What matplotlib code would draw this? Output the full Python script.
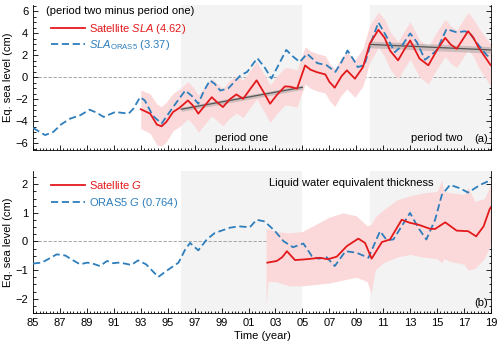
import numpy as np
import matplotlib
matplotlib.use("Agg")
import matplotlib.pyplot as plt
from matplotlib.ticker import MultipleLocator, FixedLocator, FuncFormatter

plt.rcParams["font.family"] = ["Liberation Sans", "DejaVu Sans"]
plt.rcParams["mathtext.fontset"] = "custom"
plt.rcParams["mathtext.rm"] = "Liberation Sans"
plt.rcParams["mathtext.it"] = "Liberation Sans:italic"
plt.rcParams["font.size"] = 8

# ---- panel (a): sea level anomaly ----
sat_sla_year = [1993.0, 1993.7, 1994.2, 1994.55, 1994.9, 1995.4, 1995.9, 1996.5, 1996.9,
                1997.27, 1997.8, 1998.27, 1998.7, 1999.1, 1999.6, 2000.1, 2000.6, 2001.1,
                2001.6, 2002.1, 2002.6, 2003.1, 2003.7, 2004.1, 2004.6, 2005.2, 2005.6,
                2006.06, 2006.7, 2007.0, 2007.4, 2007.9, 2008.3, 2008.9, 2009.5, 2010.0,
                2010.64, 2011.1, 2011.5, 2012.1, 2012.6, 2013.0, 2013.7, 2014.35, 2015.0,
                2015.6, 2016.0, 2016.45, 2017.3, 2017.7, 2018.06, 2018.9, 2019.0]
sat_sla = [-2.9, -3.3, -4.3, -4.45, -4.05, -3.15, -2.75, -2.1, -2.6,
           -3.3, -2.5, -1.8, -2.3, -2.7, -2.0, -1.55, -1.95, -1.1,
           -0.27, -1.3, -2.4, -1.6, -0.82, -0.85, -1.03, 1.09, 0.7,
           0.48, 0.27, -0.4, -0.94, 0.1, 0.64, -0.12, 0.94, 3.06,
           4.33, 3.6, 2.45, 1.55, 2.6, 3.36, 1.7, 1.1, 2.5,
           3.6, 3.0, 2.6, 4.2, 3.6, 2.76, 1.24, 1.1]
sat_sla_err = [1.75, 1.8, 1.85, 1.8, 1.8, 1.7, 1.7, 1.7, 1.7,
               1.7, 1.7, 1.7, 1.7, 1.7, 1.7, 1.7, 1.7, 1.7,
               1.7, 1.7, 1.7, 1.7, 1.7, 1.7, 1.7, 1.7, 1.7,
               1.7, 1.7, 1.7, 1.7, 1.7, 1.7, 1.7, 1.7, 1.7,
               1.6, 1.7, 1.7, 1.7, 1.7, 1.7, 1.7, 1.7, 1.7,
               1.7, 1.7, 1.7, 1.7, 1.7, 1.8, 1.9, 1.9]

oras_sla_year = [1985.0, 1985.9, 1986.5, 1987.1, 1987.75, 1988.5, 1989.2, 1989.7, 1990.25,
                 1991.1, 1992.1, 1992.45, 1992.95, 1993.3, 1993.9, 1994.55, 1995.4, 1996.3,
                 1996.8, 1997.27, 1997.7, 1998.14, 1998.5, 1998.9, 1999.5, 2000.4, 2000.9,
                 2001.65, 2002.2, 2002.7, 2003.3, 2003.8, 2004.3, 2004.8, 2005.35, 2006.1,
                 2006.8, 2007.45, 2007.9, 2008.35, 2008.8, 2009.1, 2009.6, 2010.1, 2010.64,
                 2011.2, 2011.87, 2012.4, 2013.0, 2013.5, 2014.1, 2014.97, 2015.7, 2016.45,
                 2017.07, 2017.5, 2017.9, 2018.7, 2019.0]
oras_sla = [-4.6, -5.25, -4.97, -4.27, -3.76, -3.45, -2.94, -3.2, -3.6,
            -3.15, -3.3, -2.85, -1.8, -2.1, -3.5, -4.2, -2.7, -1.2,
            -1.7, -2.4, -1.2, -0.27, -0.6, -1.2, -1.0, 0.18, 0.5,
            1.75, 0.9, -0.1, 1.3, 2.5, 1.9, 1.4, 2.15, 1.3,
            1.1, 0.5, 1.4, 2.45, 1.6, 0.94, 1.1, 3.2, 5.0,
            3.8, 2.3, 2.9, 4.0, 3.2, 1.6, 2.45, 4.4, 4.1,
            4.2, 3.9, 3.2, 2.0, 1.8]

trend1_year = [1996.0, 2005.0]
trend1 = [-2.9, -0.9]
trend1_err = [0.2, 0.2]
trend2_year = [2010.0, 2019.0]
trend2 = [3.0, 2.5]
trend2_err = [0.3, 0.3]

# ---- panel (b): liquid water equivalent thickness ----
sat_g_year = [2002.4, 2003.1, 2003.5, 2003.85, 2004.45, 2005.3, 2006.3, 2006.9, 2007.55,
              2008.3, 2009.15, 2009.65, 2010.14, 2010.9, 2011.5, 2012.37, 2013.0, 2013.6,
              2014.5, 2014.85, 2015.6, 2016.45, 2017.3, 2017.9, 2018.45, 2018.9, 2019.0]
sat_g = [-0.74, -0.68, -0.55, -0.34, -0.65, -0.62, -0.57, -0.62, -0.53,
         -0.16, 0.1, -0.05, -0.6, -0.02, 0.07, 0.76, 0.65, 0.59,
         0.44, 0.44, 0.67, 0.38, 0.36, 0.18, 0.53, 1.13, 1.2]

g_band_year = [2002.3, 2002.45, 2003.0, 2004.0, 2005.0, 2006.0, 2007.0, 2008.0, 2009.0,
               2009.8, 2010.1, 2010.4, 2011.0, 2012.0, 2013.0, 2014.0, 2015.0, 2015.35,
               2015.5, 2016.0, 2017.0, 2017.3, 2017.8, 2018.5, 2019.0]
g_band_lo = [-2.25, -1.4, -1.4, -1.55, -1.55, -1.5, -1.45, -1.35, -1.25,
             -1.4, -1.8, -1.0, -0.75, -0.55, -0.45, -0.55, -0.6, -0.75,
             -0.6, -0.7, -0.8, -1.0, -0.95, -0.6, -0.1]
g_band_hi = [0.45, 0.45, 0.35, 0.3, 0.35, 0.6, 0.85, 1.0, 0.9,
             0.55, 0.6, 0.85, 1.1, 1.45, 1.6, 1.7, 1.75, 2.15,
             1.75, 1.7, 1.65, 1.9, 1.4, 1.5, 2.0]

oras_g_year = [1985.0, 1985.65, 1986.76, 1987.4, 1987.87, 1988.5, 1989.0, 1989.36, 1989.97,
               1990.5, 1990.96, 1991.3, 1991.8, 1992.3, 1992.8, 1993.4, 1994.3, 1994.9,
               1995.8, 1996.3, 1996.66, 1997.27, 1997.9, 1998.5, 1999.25, 1999.6, 2000.25,
               2001.1, 2001.6, 2002.2, 2002.97, 2003.6, 2004.3, 2005.07, 2005.7, 2006.2,
               2006.8, 2007.4, 2008.2, 2009.0, 2009.9, 2010.76, 2011.26, 2011.75, 2012.99,
               2013.6, 2014.2, 2014.85, 2015.35, 2015.96, 2016.7, 2017.3, 2018.2, 2019.0]
oras_g = [-0.77, -0.74, -0.45, -0.49, -0.63, -0.8, -0.74, -0.76, -0.86,
          -0.68, -0.76, -0.74, -0.77, -0.82, -0.66, -0.8, -1.24, -1.03,
          -0.74, -0.28, -0.05, -0.31, 0.07, 0.3, 0.42, 0.48, 0.53,
          0.5, 0.76, 0.7, 0.36, 0.01, -0.2, -0.07, -0.51, -0.6,
          -0.55, -0.86, -0.34, -0.39, -0.57, 0.36, 0.05, 0.07, 1.0,
          0.48, 0.07, 0.76, 1.63, 1.98, 1.86, 1.71, 1.98, 2.15]

periods = [(1996, 2005), (2010, 2019)]
year_ticks = list(range(1985, 2020, 2))

red = "#e3191c"
blue = "#2e7ebc"
pink = "#fbd9da"
shade = "#f3f3f3"

fig = plt.figure(figsize=(5.0, 3.47), dpi=100)
ax1 = fig.add_axes([0.066, 0.568, 0.916, 0.418])
ax2 = fig.add_axes([0.066, 0.098, 0.916, 0.408])

for ax in (ax1, ax2):
    for p0, p1 in periods:
        ax.axvspan(p0, p1, color=shade, lw=0, zorder=0)
    ax.axhline(0, color="#999999", ls=(0, (4, 2)), lw=0.6, zorder=1)
    ax.set_xlim(1985, 2019)
    ax.spines["top"].set_visible(False)
    ax.xaxis.set_major_locator(FixedLocator(year_ticks))
    ax.xaxis.set_minor_locator(MultipleLocator(0.25))
    ax.tick_params(which="both", direction="in", right=True, width=0.6)
    ax.tick_params(which="major", length=3.5)
    ax.tick_params(which="minor", length=1.8)
    for s in ax.spines.values():
        s.set_linewidth(0.6)
    ax.set_ylabel("Eq. sea level (cm)", labelpad=2)

# panel (a)
sy = np.array(sat_sla)
se = np.array(sat_sla_err)
ax1.fill_between(sat_sla_year, sy - se, sy + se, color=pink, lw=0, zorder=2)
for ty, tv, te in [(trend1_year, trend1, trend1_err), (trend2_year, trend2, trend2_err)]:
    tv = np.array(tv)
    te = np.array(te)
    ax1.fill_between(ty, tv - te, tv + te, color="#9a9a9a", alpha=0.45, lw=0, zorder=3)
    ax1.plot(ty, tv, color="#555555", lw=0.9, zorder=4)
ax1.plot(oras_sla_year, oras_sla, color=blue, ls=(0, (4, 2)), lw=1.3, zorder=5,
         label=r"$\mathit{SLA}_{\mathrm{ORAS5}}$ (3.37)")
ax1.plot(sat_sla_year, sat_sla, color=red, lw=1.3, zorder=6,
         label=r"Satellite $\mathit{SLA}$ (4.62)")
ax1.set_ylim(-6.6, 6.6)
ax1.yaxis.set_major_locator(MultipleLocator(2))
ax1.yaxis.set_minor_locator(MultipleLocator(0.5))
ax1.tick_params(axis="x", labelbottom=False)
h, l = ax1.get_legend_handles_labels()
ax1.legend(h[::-1], l[::-1], loc="upper left", bbox_to_anchor=(0.03, 0.91), frameon=False,
           labelcolor="linecolor", handlelength=3.0, handletextpad=0.4,
           borderaxespad=0, labelspacing=0.15)
ax1.text(0.028, 0.955, "(period two minus period one)", transform=ax1.transAxes,
         ha="left", va="center")
ax1.text(2000.5, -5.5, "period one", ha="center", va="center")
ax1.text(2015.0, -5.5, "period two", ha="center", va="center")
ax1.text(0.993, 0.075, "(a)", transform=ax1.transAxes, ha="right", va="center")

# panel (b)
ax2.fill_between(g_band_year, g_band_lo, g_band_hi, color=pink, lw=0, zorder=2)
ax2.plot(oras_g_year, oras_g, color=blue, ls=(0, (4, 2)), lw=1.3, zorder=5,
         label=r"ORAS5 $\mathit{G}$ (0.764)")
ax2.plot(sat_g_year, sat_g, color=red, lw=1.3, zorder=6,
         label=r"Satellite $\mathit{G}$")
ax2.set_ylim(-2.5, 2.45)
ax2.yaxis.set_major_locator(MultipleLocator(1))
ax2.yaxis.set_minor_locator(MultipleLocator(0.25))
ax2.xaxis.set_major_formatter(FuncFormatter(lambda v, p: "%02d" % (int(round(v)) % 100)))
h, l = ax2.get_legend_handles_labels()
ax2.legend(h[::-1], l[::-1], loc="upper left", bbox_to_anchor=(0.03, 0.98), frameon=False,
           labelcolor="linecolor", handlelength=3.0, handletextpad=0.4,
           borderaxespad=0, labelspacing=0.45)
ax2.text(2002.5, 2.05, "Liquid water equivalent thickness", ha="left", va="center")
ax2.text(0.993, 0.07, "(b)", transform=ax2.transAxes, ha="right", va="center")
ax2.set_xlabel("Time (year)", labelpad=2)

fig.savefig("out.png", dpi=100)
